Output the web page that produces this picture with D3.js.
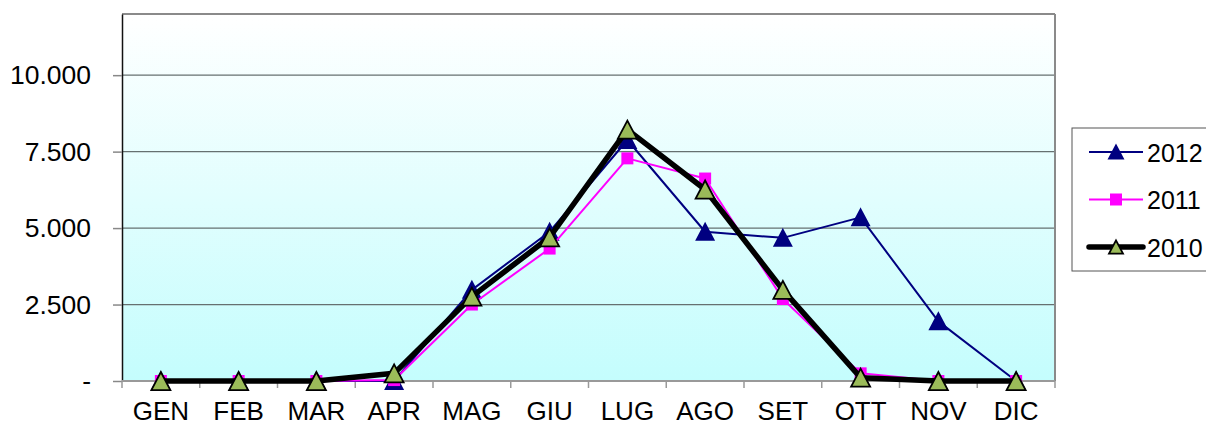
<!DOCTYPE html>
<html>
<head>
<meta charset="utf-8">
<script src="https://cdn.jsdelivr.net/npm/d3@7"></script>
<style>
  body { margin: 0; background: #fff; }
  svg text { font-family: "Liberation Sans", Arial, sans-serif; }
</style>
</head>
<body>
<div id="chart"></div>
<script>
// Months on the x axis
var months = ["GEN", "FEB", "MAR", "APR", "MAG", "GIU", "LUG", "AGO", "SET", "OTT", "NOV", "DIC"];

// Values
var values2012 = [0, 0, 0, 0, 2980, 4880, 7880, 4880, 4680, 5350, 1950, 0];
var values2011 = [0, 0, 0, 30, 2500, 4330, 7280, 6620, 2680, 250, 0, 0];
var values2010 = [0, 0, 0, 250, 2760, 4700, 8220, 6260, 2980, 110, 0, 0];

// Y tick values and their labels
var yTicks = [0, 2500, 5000, 7500, 10000];
var yTickLabels = ["-", "2.500", "5.000", "7.500", "10.000"];

var width = 1206, height = 424;
var margin = { top: 14, right: 151, bottom: 43, left: 122 };
var innerWidth = width - margin.left - margin.right;
var innerHeight = height - margin.top - margin.bottom;

var svg = d3.select("#chart")
    .append("svg")
    .attr("width", width)
    .attr("height", height);

// Background gradient of the plot area
var grad = svg.append("defs").append("linearGradient")
    .attr("id", "bg")
    .attr("x1", 0).attr("y1", 0).attr("x2", 0).attr("y2", 1);
grad.append("stop").attr("offset", "0%").attr("stop-color", "#ffffff");
grad.append("stop").attr("offset", "100%").attr("stop-color", "#c4fdfd");

var g = svg.append("g")
    .attr("transform", `translate(${margin.left}, ${margin.top})`);

var x = d3.scaleBand()
    .domain(months)
    .range([0, innerWidth]);

var y = d3.scaleLinear()
    .domain([0, 12000])
    .range([innerHeight, 0]);

g.append("rect")
    .attr("width", innerWidth)
    .attr("height", innerHeight)
    .attr("fill", "url(#bg)");

// Horizontal gridlines
g.selectAll(".grid")
    .data(yTicks.filter(d => d > 0))
    .enter().append("line")
    .attr("x1", 0).attr("x2", innerWidth)
    .attr("y1", d => y(d)).attr("y2", d => y(d))
    .attr("stroke", "#667070")
    .attr("stroke-width", 1.2);

// Frame: top and right in gray, left in black
g.append("line").attr("x1", 0).attr("x2", innerWidth).attr("y1", 0).attr("y2", 0)
    .attr("stroke", "#8a8a8a").attr("stroke-width", 2);
g.append("line").attr("x1", innerWidth).attr("x2", innerWidth).attr("y1", 0).attr("y2", innerHeight)
    .attr("stroke", "#8a8a8a").attr("stroke-width", 2);

// Y axis
var yAxis = g.append("g")
    .call(d3.axisLeft(y)
        .tickValues(yTicks)
        .tickSize(9)
        .tickSizeOuter(0)
        .tickPadding(22)
        .tickFormat((d, i) => yTickLabels[i]));
yAxis.select(".domain").attr("stroke", "#111").attr("stroke-width", 1.5);
yAxis.selectAll("line").attr("stroke", "#888").attr("stroke-width", 1.5);
yAxis.selectAll("text").attr("font-size", 26.5).attr("fill", "#000")
    .attr("font-family", "Liberation Sans, Arial, sans-serif");

// X axis with ticks at the band edges
var xAxis = g.append("g")
    .attr("transform", `translate(0, ${innerHeight})`);
xAxis.append("line")
    .attr("x1", 0).attr("x2", innerWidth)
    .attr("stroke", "#999").attr("stroke-width", 2);
xAxis.selectAll(".tk")
    .data(d3.range(months.length + 1))
    .enter().append("line")
    .attr("x1", i => i * x.bandwidth()).attr("x2", i => i * x.bandwidth())
    .attr("y1", 0).attr("y2", 7)
    .attr("stroke", "#999").attr("stroke-width", 1.5);
xAxis.selectAll(".lbl")
    .data(months)
    .enter().append("text")
    .attr("x", d => x(d) + x.bandwidth() / 2)
    .attr("y", 39)
    .attr("text-anchor", "middle")
    .attr("font-size", 26)
    .text(d => d);

var cx = d => x(d) + x.bandwidth() / 2;

var series = [
    { name: "2012", values: values2012, color: "#000080", width: 2, marker: "triangle", fill: "#000080", stroke: "#000080", size: 17 },
    { name: "2011", values: values2011, color: "#ff00ff", width: 2, marker: "square", fill: "#ff00ff", stroke: "none", size: 12 },
    { name: "2010", values: values2010, color: "#000000", width: 5.5, marker: "triangle", fill: "#9bbb59", stroke: "#000", size: 19 }
];

function triPath(s) {
    var h = s * 0.95;
    return `M0,${-h / 2}L${s / 2},${h / 2}L${-s / 2},${h / 2}Z`;
}

function drawMarker(sel, s) {
    if (s.marker == "triangle") {
        sel.append("path")
            .attr("d", triPath(s.size))
            .attr("fill", s.fill)
            .attr("stroke", s.stroke)
            .attr("stroke-width", 1.8)
            .attr("stroke-linejoin", "miter");
    } else {
        sel.append("rect")
            .attr("x", -s.size / 2).attr("y", -s.size / 2)
            .attr("width", s.size).attr("height", s.size)
            .attr("fill", s.fill);
    }
}

var line = d3.line()
    .x((d, i) => cx(months[i]))
    .y(d => y(d));

series.forEach(function (s) {
    g.append("path")
        .datum(s.values)
        .attr("fill", "none")
        .attr("stroke", s.color)
        .attr("stroke-width", s.width)
        .attr("stroke-linejoin", "round")
        .attr("d", line);
    s.values.forEach(function (v, i) {
        var m = g.append("g").attr("transform", `translate(${cx(months[i])}, ${y(v)})`);
        drawMarker(m, s);
    });
});

// Legend
var legend = svg.append("g").attr("transform", "translate(1072, 128)");
legend.append("rect")
    .attr("width", 140).attr("height", 143)
    .attr("fill", "#fff")
    .attr("stroke", "#555").attr("stroke-width", 1);

series.forEach(function (s, i) {
    var row = legend.append("g").attr("transform", `translate(0, ${24 + i * 47.5})`);
    row.append("line")
        .attr("x1", 17).attr("x2", 71)
        .attr("stroke", s.color)
        .attr("stroke-width", s.width)
        .attr("stroke-linecap", s.width > 3 ? "round" : "butt");
    var m = row.append("g").attr("transform", "translate(44, 0)");
    drawMarker(m, Object.assign({}, s, { size: s.marker == "triangle" ? 14 : 12 }));
    row.append("text")
        .attr("x", 75).attr("y", 9.5)
        .attr("font-size", 25)
        .text(s.name);
});
</script>
</body>
</html>
